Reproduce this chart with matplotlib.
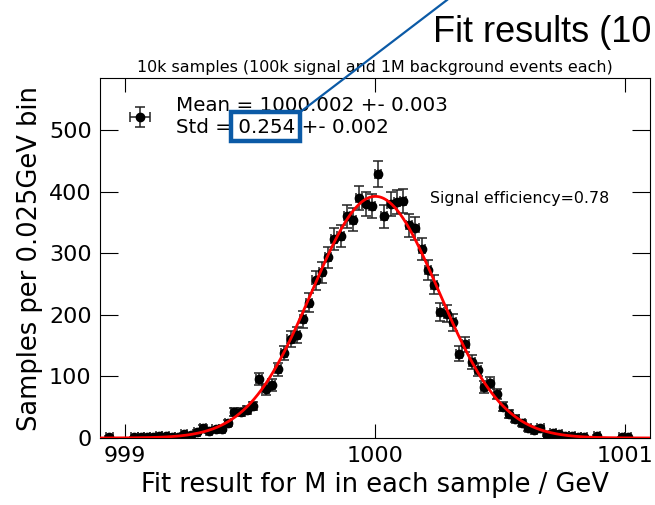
import numpy as np
import matplotlib
matplotlib.use("Agg")
import matplotlib.pyplot as plt
from matplotlib.lines import Line2D
from matplotlib.patches import Rectangle

# histogram of fitted M, 0.025 GeV bins starting at 998.9
bin_lo = 998.9
bin_w = 0.025
counts = [0, 2, 0, 0, 0, 1, 1, 1, 2, 4,
          4, 2, 2, 6, 5, 10, 17, 11, 14, 15,
          24, 42, 42, 45, 52, 96, 79, 86, 112, 138,
          161, 168, 193, 220, 256, 269, 294, 323, 328, 360,
          355, 390, 381, 377, 429, 360, 381, 383, 385, 346,
          341, 307, 273, 249, 205, 202, 188, 137, 152, 124,
          111, 83, 90, 71, 51, 39, 31, 25, 16, 13,
          16, 5, 8, 6, 3, 3, 2, 2, 0, 3,
          0, 0, 0, 1, 1, 0, 0, 0]

# fit result shown in the legend
fit_mean = 1000.002
fit_std = 0.254
n_samples = 10000

legend_label = "Mean = 1000.002 +- 0.003\nStd = 0.254 +- 0.002"
title = "10k samples (100k signal and 1M background events each)"
eff_text = "Signal efficiency=0.78"
slide_text = "Fit results (10"

counts = np.array(counts, dtype=float)
centers = bin_lo + bin_w * (np.arange(len(counts)) + 0.5)
keep = counts > 0

fig = plt.figure(figsize=(6.55, 5.05), dpi=100)
ax = fig.add_axes([0.1527, 0.1327, 0.8393, 0.7128])

xx = np.linspace(998.9, 1001.1, 600)
yy = n_samples * bin_w / (fit_std * np.sqrt(2 * np.pi)) * np.exp(-0.5 * ((xx - fit_mean) / fit_std) ** 2)
ax.plot(xx, yy, color="red", lw=2, zorder=3)

ax.errorbar(centers[keep], counts[keep], yerr=np.sqrt(counts[keep]), xerr=bin_w / 2,
            fmt="o", color="black", ms=6, ecolor="#222222", elinewidth=1.1,
            capsize=3.5, capthick=1.1, label=legend_label, zorder=2)

ax.set_xlim(998.9, 1001.1)
ax.set_ylim(0, 585)
ax.set_xticks([999, 1000, 1001])
ax.set_yticks([0, 100, 200, 300, 400, 500])
ax.tick_params(direction="in", top=True, right=True, labelsize=16)
ax.tick_params(axis="x", length=10, pad=6)
ax.tick_params(axis="y", length=13, pad=6)

ax.set_xlabel("Fit result for M in each sample / GeV", fontsize=18.5, labelpad=4)
ax.set_ylabel("Samples per 0.025GeV bin", fontsize=18.5, labelpad=4)
ax.set_title(title, fontsize=11.4, pad=4)
ax.text(0.6, 0.664, eff_text, transform=ax.transAxes, fontsize=11.4, va="center")

ax.legend(loc="upper left", bbox_to_anchor=(0.004, 1.0), frameon=False,
          numpoints=1, fontsize=14.3)

# slide overlay: highlight box + pointer line + cut-off heading
W, H = 655.0, 505.0
fig.text(433 / W, 1 - 42 / H, slide_text, fontsize=26, family="Liberation Sans", va="baseline")
blue = "#0b5aa6"
fig.add_artist(Rectangle((231 / W, 1 - 141 / H), 69 / W, 29 / H, transform=fig.transFigure,
                         fill=False, edgecolor=blue, lw=3.2, zorder=10))
fig.add_artist(Line2D([447 / W, 299 / W], [1.0, 1 - 113 / H], transform=fig.transFigure,
                      color=blue, lw=1.6, zorder=10))

fig.savefig("out.png", dpi=100)
